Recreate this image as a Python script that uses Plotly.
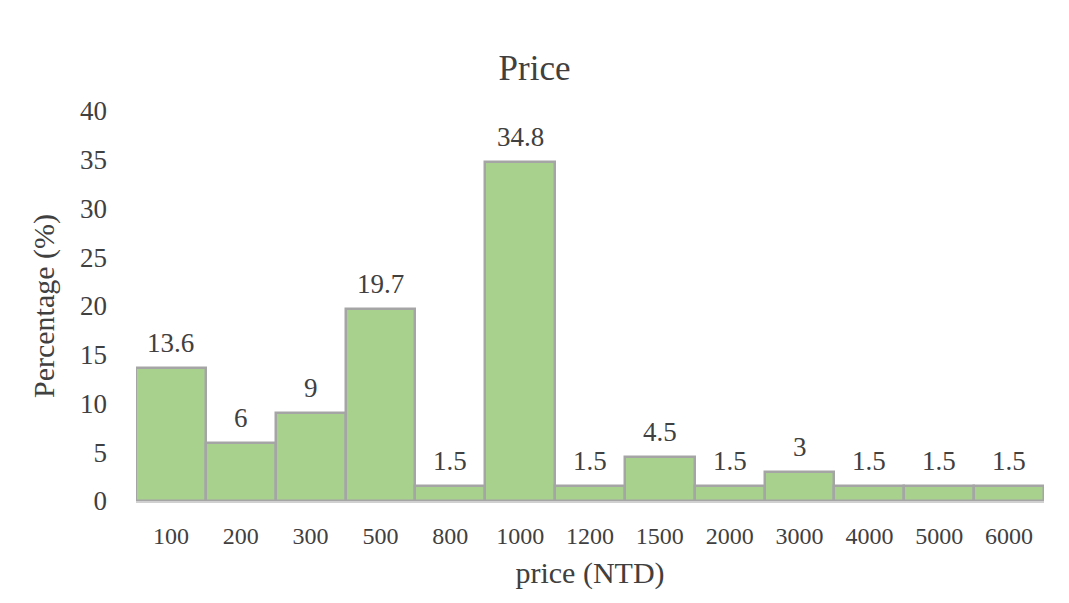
import plotly.graph_objects as go

# Price bands (NTD) and share of respondents in each band (%)
price_bands = ["100", "200", "300", "500", "800", "1000", "1200",
               "1500", "2000", "3000", "4000", "5000", "6000"]
percentages = [13.6, 6, 9, 19.7, 1.5, 34.8, 1.5, 4.5, 1.5, 3, 1.5, 1.5, 1.5]
y_ticks = [0, 5, 10, 15, 20, 25, 30, 35, 40]

FONT = "Liberation Serif, Times New Roman, serif"
TEXT = "#404040"

fig = go.Figure(
    go.Bar(
        x=price_bands,
        y=percentages,
        marker=dict(color="#A9D18E", line=dict(color="#A5A5A5", width=2.5)),
    )
)

# value labels floating a little above each bar (category index on x)
for idx, value in enumerate(percentages):
    fig.add_annotation(
        x=idx,
        y=value,
        xref="x",
        yref="y",
        text=f"{value:g}",
        showarrow=False,
        yanchor="bottom",
        yshift=8,
        font=dict(family=FONT, size=27, color=TEXT),
    )

fig.update_layout(
    width=1069,
    height=603,
    margin=dict(l=136, r=25, t=111, b=102),
    paper_bgcolor="white",
    plot_bgcolor="white",
    bargap=0,
    showlegend=False,
    font=dict(family=FONT, color=TEXT),
    title=dict(
        text="Price",
        x=0.5,
        xanchor="center",
        y=0.888,
        yanchor="middle",
        font=dict(family=FONT, size=35, color=TEXT),
    ),
)

fig.update_xaxes(
    type="category",
    categoryorder="array",
    categoryarray=price_bands,
    range=[-0.5, len(price_bands) - 0.5],
    showgrid=False,
    showline=True,
    linecolor="#D0D0D0",
    linewidth=2,
    ticks="",
    ticklabelstandoff=12,
    tickfont=dict(family=FONT, size=24, color=TEXT),
    title=dict(text="price (NTD)", font=dict(family=FONT, size=30, color=TEXT), standoff=14),
)

fig.update_yaxes(
    range=[0, 40],
    tickvals=y_ticks,
    showgrid=False,
    zeroline=False,
    showline=False,
    ticks="",
    ticklabelstandoff=28,
    tickfont=dict(family=FONT, size=27, color=TEXT),
    title=dict(text="Percentage (%)", font=dict(family=FONT, size=30, color=TEXT), standoff=16),
)

fig.write_html("out.html")
